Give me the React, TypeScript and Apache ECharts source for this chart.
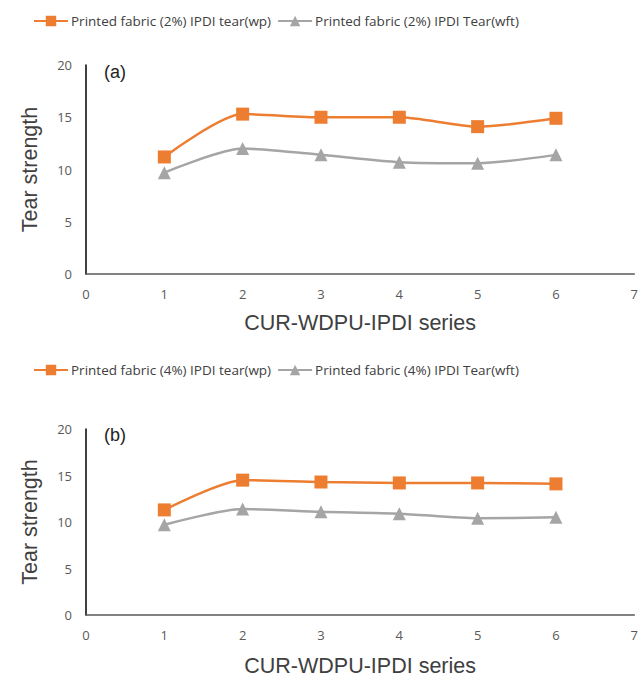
import React, { useEffect, useRef } from "react";
import * as echarts from "echarts";

const xValues = [1, 2, 3, 4, 5, 6];
const wp2 = [11.2, 15.3, 15.0, 15.0, 14.1, 14.9];
const wft2 = [9.7, 12.0, 11.4, 10.7, 10.6, 11.4];
const wp4 = [11.3, 14.5, 14.3, 14.2, 14.2, 14.1];
const wft4 = [9.7, 11.4, 11.1, 10.9, 10.4, 10.5];
const seriesNames = [
  "Printed fabric (2%) IPDI tear(wp)",
  "Printed fabric (2%) IPDI Tear(wft)",
  "Printed fabric (4%) IPDI tear(wp)",
  "Printed fabric (4%) IPDI Tear(wft)",
];
const panelLabels = ["(a)", "(b)"];
const xTitle = "CUR-WDPU-IPDI series";
const yTitle = "Tear strength";

const ORANGE = "#ED7D31";
const GRAY = "#A5A5A5";

export default function App() {
  const ref = useRef<HTMLDivElement>(null);
  useEffect(() => {
    document.body.style.margin = "0";
    const chart = echarts.init(ref.current!, null, { renderer: "svg" });
    const pair = (arr: number[]) => xValues.map((x, i) => [x, arr[i]]);
    const font = "'Open Sans', sans-serif";
    const titleFont = "'Liberation Sans', Arial, sans-serif";
    const xAxisBase = (gridIndex: number, gap: number) => ({
      type: "value",
      gridIndex,
      min: 0,
      max: 7,
      interval: 1,
      splitLine: { show: false },
      axisTick: { show: false },
      axisLine: { show: true, onZero: false, lineStyle: { color: "#595959", width: 1.5 } },
      axisLabel: { color: "#595959", fontSize: 13, fontFamily: font, margin: 13 },
      name: xTitle,
      nameLocation: "middle",
      nameGap: gap,
      nameTextStyle: { fontSize: 21.5, color: "#404040", fontFamily: titleFont },
    });
    const yAxisBase = (gridIndex: number) => ({
      type: "value",
      gridIndex,
      min: 0,
      max: 20,
      interval: 5,
      splitLine: { show: false },
      axisTick: { show: false },
      axisLine: { show: true, lineStyle: { color: "#000", width: 1.5 } },
      axisLabel: { color: "#595959", fontSize: 13, fontFamily: font, margin: 14 },
      name: yTitle,
      nameLocation: "middle",
      nameGap: 45,
      nameTextStyle: { fontSize: 21.5, color: "#404040", fontFamily: titleFont },
    });
    const lineSeries = (name: string, data: number[], idx: number, color: string, symbol: string, size: number) => ({
      type: "line",
      name,
      xAxisIndex: idx,
      yAxisIndex: idx,
      data: pair(data),
      smooth: 0.25,
      symbol,
      symbolSize: size,
      lineStyle: { color, width: 2.5 },
      itemStyle: { color },
    });
    const legendBase = (names: string[], top: number) => ({
      data: names,
      top,
      left: 28,
      itemGap: 6,
      itemWidth: 34,
      itemHeight: 13,
      textStyle: { fontSize: 13.5, color: "#404040", fontFamily: font, padding: [0, 0, 0, -2] },
    });
    chart.setOption({
      animation: false,
      backgroundColor: "#fff",
      legend: [legendBase(seriesNames.slice(0, 2), 9), legendBase(seriesNames.slice(2, 4), 358)],
      grid: [
        { left: 86, top: 65, width: 551, height: 209 },
        { left: 86, top: 429, width: 551, height: 186 },
      ],
      xAxis: [xAxisBase(0, 38), xAxisBase(1, 40)],
      yAxis: [yAxisBase(0), yAxisBase(1)],
      series: [
        lineSeries(seriesNames[0], wp2, 0, ORANGE, "rect", 13),
        lineSeries(seriesNames[1], wft2, 0, GRAY, "triangle", 13),
        lineSeries(seriesNames[2], wp4, 1, ORANGE, "rect", 13),
        lineSeries(seriesNames[3], wft4, 1, GRAY, "triangle", 13),
      ],
      graphic: [
        { type: "text", left: 104, top: 63, style: { text: panelLabels[0], fontSize: 18, fill: "#222", fontFamily: titleFont } },
        { type: "text", left: 104, top: 426, style: { text: panelLabels[1], fontSize: 18, fill: "#222", fontFamily: titleFont } },
      ],
    });
    return () => chart.dispose();
  }, []);
  return <div ref={ref} style={{ width: 641, height: 681 }} />;
}
